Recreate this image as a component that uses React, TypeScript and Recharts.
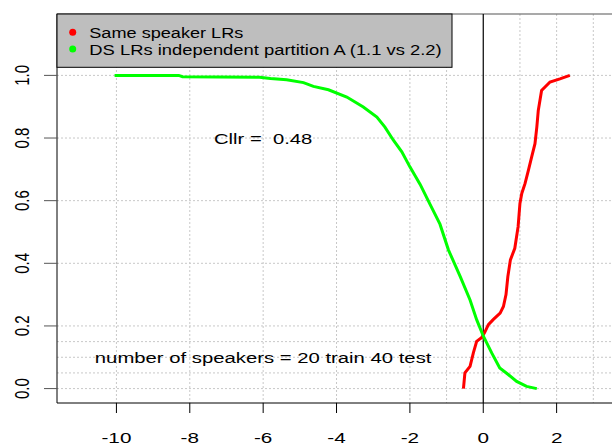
import React from "react";
import {
  ComposedChart,
  Line,
  XAxis,
  YAxis,
  CartesianGrid,
  ReferenceLine,
  ReferenceDot,
} from "recharts";

// Same-speaker LRs (log10 LR) and cumulative proportion
const ssX = [-0.54, -0.5, -0.36, -0.27, -0.18, -0.04, 0.05, 0.14, 0.27, 0.46, 0.55, 0.62, 0.67, 0.74, 0.86, 0.95, 1.0, 1.05, 1.14, 1.23, 1.32, 1.41, 1.46, 1.5, 1.59, 1.82, 2.09, 2.36];
const ssY = [0.0, 0.05, 0.071, 0.114, 0.151, 0.163, 0.182, 0.204, 0.22, 0.241, 0.262, 0.3, 0.357, 0.411, 0.448, 0.517, 0.591, 0.623, 0.655, 0.697, 0.74, 0.782, 0.835, 0.888, 0.952, 0.979, 0.989, 1.0];

// Different-speaker LRs, partition A
const dsX = [-10.05, -8.3, -8.2, -6.1, -5.8, -5.36, -4.9, -4.63, -4.22, -3.72, -3.27, -2.9, -2.68, -2.45, -2.22, -2.0, -1.72, -1.45, -1.18, -0.95, -0.63, -0.36, -0.18, 0.0, 0.23, 0.45, 0.68, 0.91, 1.18, 1.46];
const dsY = [1.0, 1.0, 0.996, 0.994, 0.99, 0.986, 0.977, 0.965, 0.954, 0.931, 0.899, 0.867, 0.835, 0.793, 0.756, 0.708, 0.652, 0.588, 0.525, 0.443, 0.358, 0.283, 0.22, 0.168, 0.114, 0.066, 0.045, 0.023, 0.007, 0.0];

const xTicks = [-10, -8, -6, -4, -2, 0, 2];
const yTicks = [0, 0.2, 0.4, 0.6, 0.8, 1.0];
const xGrid = [-10, -8, -6, -4, -2, -1, 1, 2, 3];
const yGrid = [0, 0.05, 0.1, 0.15, 0.2, 0.4, 0.6, 0.8, 1.0];

const xDomain: [number, number] = [-11.62, 4.6];
const yDomain: [number, number] = [-0.046, 1.196];

const legendLabels = ["Same speaker LRs", "DS LRs independent partition A (1.1 vs 2.2)"];
const cllrText = "Cllr =  0.48";
const speakersText = "number of speakers = 20 train 40 test";
const cllrPos = { x: -6, y: 0.8 };
const speakersPos = { x: -6, y: 0.1 };

const ssData = ssX.map((x, i) => ({ x, y: ssY[i] }));
const dsData = dsX.map((x, i) => ({ x, y: dsY[i] }));

const FONT = '"Liberation Sans", Arial, Helvetica, sans-serif';

const XTick = (props: any) => {
  const { x, y, payload } = props;
  return (
    <text
      transform={`translate(${x},${y + 27.5}) scale(1.38,1)`}
      textAnchor="middle"
      fontSize={15}
      fontFamily={FONT}
      fill="#000"
    >
      {String(payload.value)}
    </text>
  );
};

const YTick = (props: any) => {
  const { x, y, payload } = props;
  return (
    <text
      transform={`translate(${x - 13},${y}) scale(1.33,1) rotate(-90)`}
      textAnchor="middle"
      fontSize={15}
      fontFamily={FONT}
      fill="#000"
    >
      {Number(payload.value).toFixed(1)}
    </text>
  );
};

const makeTextShape = (label: string, width: number) => (props: any) => {
  const { cx, cy } = props;
  return (
    <text
      x={cx - width / 2}
      y={cy + 5.5}
      textLength={width}
      lengthAdjust="spacingAndGlyphs"
      fontSize={15.5}
      fontFamily={FONT}
      fill="#000"
      style={{ whiteSpace: "pre" }}
    >
      {label}
    </text>
  );
};

export default function App() {
  return (
    <div
      style={{
        position: "absolute",
        left: 0,
        top: 0,
        width: 612,
        height: 445,
        overflow: "hidden",
        background: "#fff",
      }}
    >
      <ComposedChart
        width={700}
        height={445}
        margin={{ top: 14, right: 48, left: 0, bottom: 0 }}
      >
        <CartesianGrid
          stroke="#c8c8c8"
          strokeDasharray="2 2"
          horizontalValues={yGrid}
          verticalValues={xGrid}
        />
        <XAxis
          type="number"
          dataKey="x"
          domain={xDomain}
          allowDataOverflow
          ticks={xTicks}
          interval={0}
          tickSize={10}
          tick={<XTick />}
          tickLine={{ stroke: "#000" }}
          axisLine={{ stroke: "#000" }}
          height={42}
        />
        <YAxis
          type="number"
          dataKey="y"
          domain={yDomain}
          allowDataOverflow
          ticks={yTicks}
          interval={0}
          tickSize={13}
          tick={<YTick />}
          tickLine={{ stroke: "#555" }}
          axisLine={{ stroke: "#000" }}
          width={57}
        />
        <ReferenceLine y={yDomain[1]} stroke="#555" strokeWidth={1.2} />
        <ReferenceLine x={0} stroke="#000" strokeWidth={1.2} />
        <Line
          data={ssData}
          dataKey="y"
          type="linear"
          stroke="#ff0000"
          strokeWidth={3}
          dot={false}
          isAnimationActive={false}
        />
        <Line
          data={dsData}
          dataKey="y"
          type="linear"
          stroke="#00ff00"
          strokeWidth={3}
          dot={false}
          isAnimationActive={false}
        />
        <ReferenceDot
          x={cllrPos.x}
          y={cllrPos.y}
          r={0}
          ifOverflow="visible"
          shape={makeTextShape(cllrText, 98.3)}
        />
        <ReferenceDot
          x={speakersPos.x}
          y={speakersPos.y}
          r={0}
          ifOverflow="visible"
          shape={makeTextShape(speakersText, 336.6)}
        />
      </ComposedChart>
      <svg
        width={612}
        height={445}
        style={{ position: "absolute", left: 0, top: 0, pointerEvents: "none" }}
      >
        <rect x={57} y={14} width={395} height={53.3} fill="#bebebe" stroke="#000" strokeWidth={1} />
        <circle cx={72.7} cy={32.3} r={3.5} fill="#ff0000" />
        <circle cx={72.7} cy={49} r={3.5} fill="#00ff00" />
        <text x={89.3} y={37.6} textLength={154} lengthAdjust="spacingAndGlyphs" fontSize={15.5} fontFamily={FONT} fill="#000">
          {legendLabels[0]}
        </text>
        <text x={89.3} y={54.5} textLength={352.4} lengthAdjust="spacingAndGlyphs" fontSize={15.5} fontFamily={FONT} fill="#000">
          {legendLabels[1]}
        </text>
      </svg>
    </div>
  );
}
